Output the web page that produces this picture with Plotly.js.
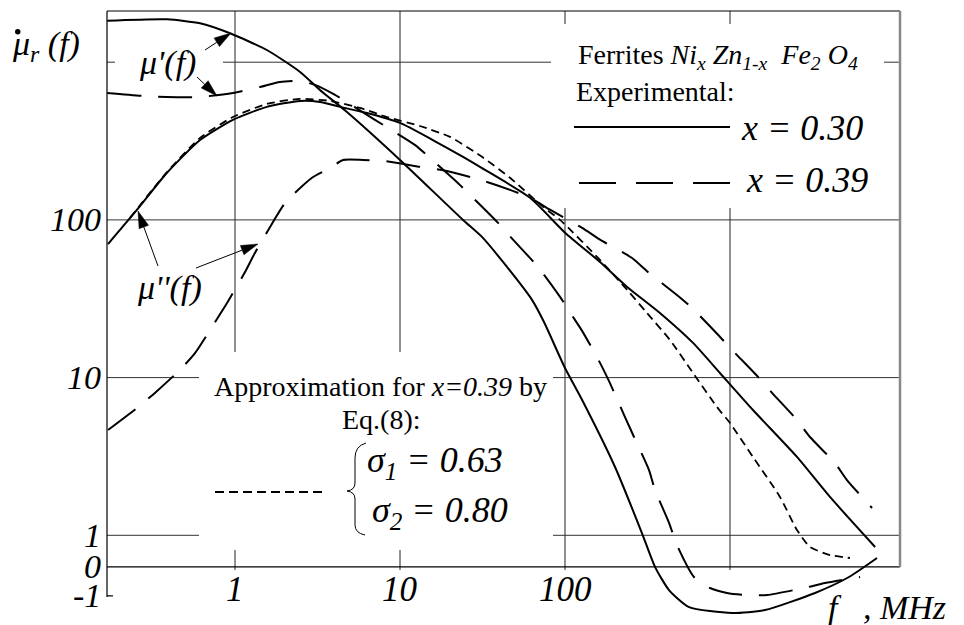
<!DOCTYPE html>
<html><head><meta charset="utf-8">
<script src="https://cdn.plot.ly/plotly-3.0.1.min.js"></script>
<style>html,body{margin:0;padding:0;background:#fff}#chart{width:964px;height:625px}</style>
</head><body><div id="chart"></div>
<script>
// ---------- data (frequency in MHz, permeability values) ----------
const xGridVals = [1, 10, 100, 1000];
const xTickVals = [1, 10, 100];
const xTickLabels = ['1', '10', '100'];
const yGridVals = [1, 10, 100, 1000];
const yTickVals = [-1, 0, 1, 10, 100];
const yTickLabels = ['-1', '0', '1', '10', '100'];

// mu' , x = 0.30 (solid)
const fMu1x030 = [0.168, 0.387, 0.614, 0.933, 1.56, 2.48, 3.27, 4.77, 10, 24.1, 31.4, 42.1, 63.1, 74.6, 100, 127, 201, 293, 351, 427, 565, 1028, 1630, 3275, 5260, 7780];
const mu1x030  = [1833, 1871, 1765, 1525, 1195, 867, 667, 483, 240, 100, 78, 54.1, 31.1, 22.5, 11.5, 7.21, 2.71, 1.03, 0, -0.80, -1.39, -1.59, -1.49, -0.90, -0.35, 0.28];

// mu' , x = 0.39 (dashed)
const fMu1x039 = [0.168, 0.277, 0.387, 0.614, 0.972, 1.42, 1.87, 2.48, 3.05, 4.04, 7.05, 12.3, 15.2, 22.5, 27.7, 39.3, 48.4, 68.6, 93.3, 110, 128, 163, 187, 231, 262, 323, 351, 427, 477, 605, 757, 959, 1233, 1676, 2806, 3766, 6138];
const mu1x039  = [638, 611, 602, 602, 638, 697, 750, 760, 718, 620, 431, 299, 247, 171, 138, 95.7, 75, 50.3, 32.5, 24.9, 19.5, 12.4, 9.25, 5.62, 4.20, 2.59, 1.94, 1.20, 0.69, -0.35, -0.73, -0.90, -0.97, -0.97, -0.73, -0.56, -0.35];

// mu'' , x = 0.30 (solid)
const fMu2x030 = [0.170, 0.255, 0.387, 0.614, 0.972, 1.56, 2.48, 3.27, 4.33, 6.31, 10, 15.8, 24.1, 31.4, 61.4, 100, 163, 238, 376, 597, 869, 1378, 2547, 4036, 7574];
const mu2x030  = [70.3, 116, 199, 321, 431, 521, 568, 560, 521, 476, 412, 321, 251, 213, 138, 83, 54.1, 37.6, 25.7, 16.6, 10.7, 6.23, 3.14, 1.75, 0.63];

// mu'' , x = 0.39 (dashed)
const fMu2x039 = [0.170, 0.255, 0.327, 0.464, 0.572, 0.757, 0.895, 1.15, 1.32, 1.70, 2.01, 2.93, 3.77, 4.51, 5.97, 8.11, 13.2, 18.0, 29.3, 46.4, 61.4, 81.1, 127, 163, 255, 318, 477, 589, 846, 1028, 1479, 1798, 2547, 3053, 4328, 5117, 7261];
const mu2x039  = [4.65, 6.42, 8.0, 11.2, 14.3, 22.5, 29.7, 46.7, 61.7, 97, 128, 185, 213, 240, 240, 236, 217, 207, 182, 155, 138, 116, 89, 75, 57.3, 46.7, 33.4, 27.6, 18.7, 15.0, 10.1, 8.0, 5.39, 4.20, 2.87, 2.24, 1.49];

// approximation by Eq.(8), x = 0.39 (short dashes)
const fApprox = [0.231, 0.387, 0.614, 0.972, 1.56, 2.48, 3.77, 5.72, 8.34, 13.2, 20.1, 31.4, 46.4, 73.6, 93.3, 163, 238, 314, 433, 597, 834, 1000, 1378, 2009, 2547, 3053, 4036, 5334];
const muApprox = [103, 201, 331, 449, 544, 585, 568, 513, 449, 394, 336, 251, 185, 121, 100, 55.7, 36.0, 25.7, 17.3, 10.7, 6.51, 5.15, 3.14, 1.75, 1.08, 0.63, 0.375, 0.28];

// ---------- scales ----------
const LX = f => Math.log10(f);
// vertical scale of the figure: logarithmic above 1, linear below 1
const TY = v => v >= 1 ? Math.log10(v) : (v >= 0 ? (v - 1) * 0.2 : -0.2 + v * 0.184);

const FONT = 'Liberation Serif, serif';
const L = 107, R = 900, TOP = 11, BOT = 620;
const PX = px => (px - L) / (R - L);
const PY = py => (BOT - py) / (BOT - TOP);

function trace(f, v, dash, width) {
  return {x: f.map(LX), y: v.map(TY), type: 'scatter', mode: 'lines', hoverinfo: 'skip',
          line: {color: '#000', width: width || 2, dash: dash, shape: 'spline', smoothing: 0.6}};
}
const LONG = '34px,17px', SHORT = '8px,5px';
const data = [
  trace(fMu1x030, mu1x030, 'solid'),
  trace(fMu1x039, mu1x039, LONG),
  trace(fMu2x030, mu2x030, 'solid'),
  trace(fMu2x039, mu2x039, LONG),
  trace(fApprox, muApprox, SHORT, 1.8)
];

// ---------- shapes ----------
const shapes = [];
xGridVals.forEach(f => shapes.push({type: 'line', layer: 'below', xref: 'x', yref: 'paper',
  x0: LX(f), x1: LX(f), y0: PY(570), y1: 1, line: {color: '#222', width: 1}}));
yGridVals.forEach(v => shapes.push({type: 'line', layer: 'below', xref: 'paper', yref: 'y',
  x0: 0, x1: 1, y0: TY(v), y1: TY(v), line: {color: '#333', width: 1}}));
// white label backgrounds hiding the grid
function box(x0, y0, x1, y1) {
  shapes.push({type: 'rect', layer: 'below', xref: 'paper', yref: 'paper',
    x0: PX(x0), x1: PX(x1), y0: PY(y1), y1: PY(y0), fillcolor: '#fff', line: {width: 0}});
}
box(115, 44, 223, 82);
box(551, 24, 884, 208);
box(199, 352, 553, 550);
// frame
shapes.push({type: 'line', layer: 'below', xref: 'paper', yref: 'y', x0: 0, x1: 1, y0: TY(0), y1: TY(0), line: {color: '#000', width: 1.2}});
shapes.push({type: 'line', layer: 'below', xref: 'paper', yref: 'paper', x0: 0, x1: 0, y0: PY(597), y1: 1, line: {color: '#000', width: 1.2}});
shapes.push({type: 'line', layer: 'below', xref: 'paper', yref: 'paper', x0: 0, x1: 1, y0: 1, y1: 1, line: {color: '#000', width: 1.2}});
shapes.push({type: 'line', layer: 'below', xref: 'paper', yref: 'paper', x0: 1, x1: 1, y0: PY(567), y1: 1, line: {color: '#888', width: 2.5}});
shapes.push({type: 'line', layer: 'below', xref: 'paper', yref: 'y', x0: 0, x1: PX(113), y0: TY(-1), y1: TY(-1), line: {color: '#000', width: 1.2}});
// legend samples
function seg(x0, y0, x1, y1, dash, w) {
  shapes.push({type: 'line', xref: 'paper', yref: 'paper', x0: PX(x0), x1: PX(x1), y0: PY(y0), y1: PY(y1),
    line: {color: '#000', width: w || 2, dash: dash || 'solid'}});
}
seg(574, 127, 730, 127);
seg(579, 183, 732, 183, '37px,20px');
seg(215, 492, 325, 492, '9px,5px', 1.8);
// brace
const bp = [[366,443],[355,446],[355,458],[355,483],[355,490],[347,491],[355,492],[355,499],[355,525],[355,533],[365,535]];
const P = p => PX(p[0]) + ',' + PY(p[1]);
shapes.push({type: 'path', xref: 'paper', yref: 'paper', line: {color: '#000', width: 1},
  path: 'M' + P(bp[0]) + ' Q' + P(bp[1]) + ' ' + P(bp[2]) + ' L' + P(bp[3]) + ' Q' + P(bp[4]) + ' ' + P(bp[5]) +
        ' Q' + P(bp[6]) + ' ' + P(bp[7]) + ' L' + P(bp[8]) + ' Q' + P(bp[9]) + ' ' + P(bp[10])});
// dot above mu (time derivative mark)
shapes.push({type: 'circle', xref: 'paper', yref: 'paper', x0: PX(15), x1: PX(20.5), y0: PY(34.5), y1: PY(29),
  fillcolor: '#000', line: {width: 0}});
// arrows
function arrow(tx, ty, hx, hy) {
  const dx = hx - tx, dy = hy - ty, len = Math.hypot(dx, dy), ux = dx / len, uy = dy / len;
  const hl = 17, hw = 5;
  const bx = hx - ux * hl, by = hy - uy * hl;
  shapes.push({type: 'line', xref: 'paper', yref: 'paper', x0: PX(tx), y0: PY(ty), x1: PX(bx), y1: PY(by), line: {color: '#000', width: 1}});
  shapes.push({type: 'path', xref: 'paper', yref: 'paper', fillcolor: '#000', line: {color: '#000', width: 0.5},
    path: 'M' + P([hx, hy]) + ' L' + P([bx - uy * hw, by + ux * hw]) + ' L' + P([bx + uy * hw, by - ux * hw]) + ' Z'});
}
arrow(205, 50, 231, 33);
arrow(197, 77, 217, 96);
arrow(158, 266, 138, 211);
arrow(196, 268, 258, 244);

// ---------- annotations ----------
const ann = [];
function T(text, px, py, size, opts) {
  ann.push(Object.assign({xref: 'paper', yref: 'paper', x: PX(px), y: PY(py), text: text, showarrow: false,
    font: {family: FONT, size: size, color: '#000'}, xanchor: 'center', yanchor: 'middle'}, opts || {}));
}
yTickVals.forEach((v, i) => ann.push({xref: 'paper', yref: 'y', x: PX(103), y: TY(v), text: '<i>' + yTickLabels[i] + '</i>',
  showarrow: false, xanchor: 'right', yanchor: 'middle', font: {family: FONT, size: 34, color: '#000'}}));
xTickVals.forEach((f, i) => ann.push({xref: 'x', yref: 'paper', x: LX(f), y: PY(589), text: '<i>' + xTickLabels[i] + '</i>',
  showarrow: false, xanchor: 'center', yanchor: 'middle', font: {family: FONT, size: 35, color: '#000'}}));
T('<i>f&nbsp;&nbsp;&nbsp;, MHz</i>', 826, 607, 34, {xanchor: 'left'});
T('<i>μ<sub>r</sub> (f)</i>', 10, 46, 34, {xanchor: 'left'});
T("<i>μ'(f)</i>", 167, 63, 34);
T("<i>μ''(f)</i>", 169, 288, 34);
T('Ferrites <i>Ni<sub>x</sub> Zn<sub>1-x</sub>&nbsp; Fe<sub>2</sub> O<sub>4</sub></i>', 576, 56, 28, {xanchor: 'left'});
T('Experimental:', 574, 92, 28, {xanchor: 'left'});
T('<i>x = 0.30</i>', 739, 128, 36, {xanchor: 'left'});
T('<i>x = 0.39</i>', 744, 180, 36, {xanchor: 'left'});
T('Approximation for <i>x=0.39</i> by', 380, 386, 28);
T('Eq.(8):', 381, 419, 28);
T('<i>σ<sub>1</sub> = 0.63</i>', 365, 462, 36, {xanchor: 'left'});
T('<i>σ<sub>2</sub> = 0.80</i>', 370, 512, 36, {xanchor: 'left'});

const axisOff = {showgrid: false, zeroline: false, showticklabels: false, ticks: '', showline: false, fixedrange: true};
const layout = {
  width: 964, height: 625,
  margin: {l: L, r: 964 - R, t: TOP, b: 625 - BOT, pad: 0},
  paper_bgcolor: '#fff', plot_bgcolor: '#fff',
  showlegend: false,
  font: {family: FONT, color: '#000'},
  xaxis: Object.assign({range: [(L - 235) / 165, (R - 235) / 165]}, axisOff),
  yaxis: Object.assign({range: [(535.3 - BOT) / 157.7, (535.3 - TOP) / 157.7]}, axisOff),
  shapes: shapes,
  annotations: ann
};
Plotly.newPlot('chart', data, layout, {staticPlot: true, displayModeBar: false});
</script></body></html>
